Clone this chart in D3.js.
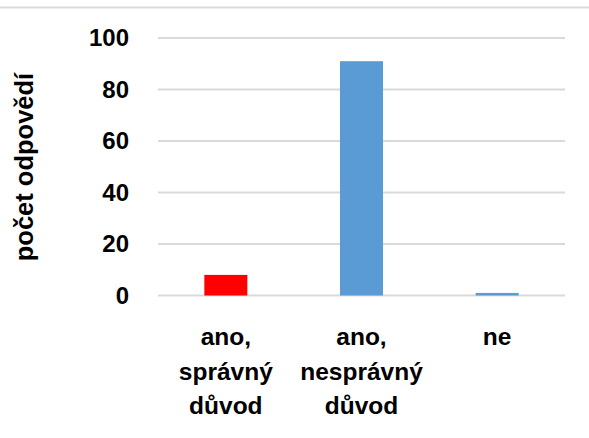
<!DOCTYPE html>
<html><head><meta charset="utf-8">
<script src="https://cdn.jsdelivr.net/npm/d3@7"></script>
<style>body{margin:0;background:#fff}svg{display:block}</style>
</head><body>
<script>
const categories = [["ano,","správný","důvod"],["ano,","nesprávný","důvod"],["ne"]];
const values = [8, 91, 1];
const colors = ["#FF0000", "#5B9BD5", "#5B9BD5"];
const yTicks = [0, 20, 40, 60, 80, 100];
const yTitle = "počet odpovědí";

const W = 589, H = 438;
const svg = d3.select("body").append("svg").attr("width", W).attr("height", H);
const font = "'Liberation Sans', Arial, sans-serif";

svg.append("line").attr("x1",0).attr("x2",W).attr("y1",7.5).attr("y2",7.5)
  .attr("stroke","#d9d9d9").attr("stroke-width",2);

const x = d3.scaleBand().domain(d3.range(categories.length)).range([158, 565]).padding(0);
const y = d3.scaleLinear().domain([0, 100]).range([295.5, 38]);
const barW = x.bandwidth() * 0.317;

const grid = svg.append("g");
grid.selectAll("line").data(yTicks).join("line")
  .attr("x1", 158).attr("x2", 565)
  .attr("y1", d => y(d)).attr("y2", d => y(d))
  .attr("stroke", "#d9d9d9").attr("stroke-width", 2);

svg.append("g").selectAll("rect").data(values).join("rect")
  .attr("x", (d,i) => x(i) + x.bandwidth()/2 - barW/2)
  .attr("width", barW)
  .attr("y", d => y(d))
  .attr("height", d => y(0) - y(d))
  .attr("fill", (d,i) => colors[i]);

const yAxis = d3.axisLeft(y).tickValues(yTicks).tickSize(0).tickPadding(0);
const ga = svg.append("g").attr("transform","translate(129,0)").call(yAxis);
ga.select(".domain").remove();
ga.selectAll("text").attr("font-family", font).attr("font-weight","bold")
  .attr("font-size", 24).attr("fill","#000");

const cl = svg.append("g");
categories.forEach((lines, i) => {
  const t = cl.append("text").attr("text-anchor","middle")
    .attr("font-family", font).attr("font-weight","bold").attr("font-size", 24.5).attr("fill","#000");
  lines.forEach((ln, j) => {
    t.append("tspan").attr("x", x(i) + x.bandwidth()/2).attr("y", 345 + j*34.5).text(ln);
  });
});

svg.append("text").attr("transform","translate(33,167) rotate(-90)")
  .attr("text-anchor","middle").attr("font-family", font).attr("font-weight","bold")
  .attr("font-size", 25.5).attr("fill","#000").text(yTitle);
</script>
</body></html>
